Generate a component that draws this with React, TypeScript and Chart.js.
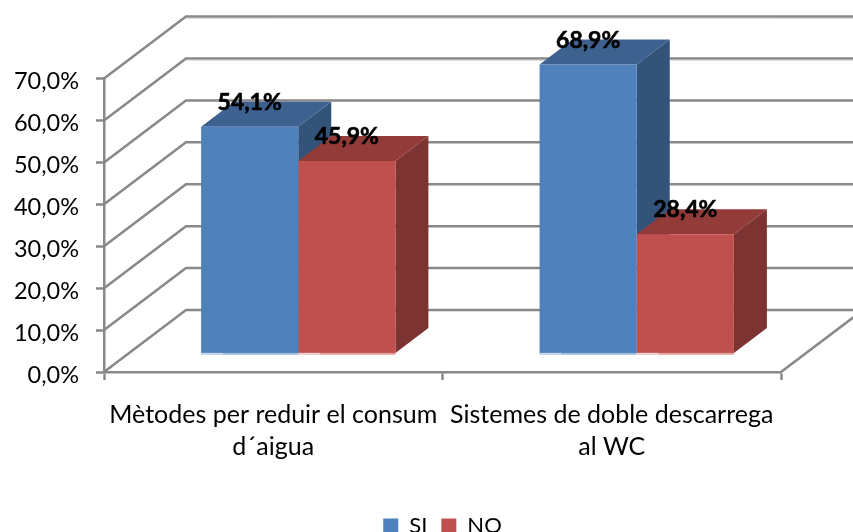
import React, { useEffect, useRef } from "react";
import { Chart, registerables } from "chart.js";

Chart.register(...registerables);

const categories = [["Mètodes per reduir el consum", "d´aigua"], ["Sistemes de doble descarrega", "al WC"]];
const siValues = [54.1, 68.9];
const noValues = [45.9, 28.4];
const FONT = "Lato";
const GRID = "#888888";

const fmt = (v: number) => v.toFixed(1).replace(".", ",") + "%";

const faces = [
  { front: "#4f81bd", top: "#3e6290", side: "#335379", strip1: "#c9d9ec", strip2: "#a3bde0" },
  { front: "#c0504d", top: "#933b39", side: "#7c3331", strip1: "#f2d3d2", strip2: "#e5a5a3" },
];

const WALL_DX = 82;
const WALL_DY = -62;
const BAR_DX = 25;
const BAR_DY = -18.6;
const DEPTH_DX = 33;
const DEPTH_DY = -25;

function poly(ctx: CanvasRenderingContext2D, pts: number[][], fill: string) {
  ctx.fillStyle = fill;
  ctx.beginPath();
  pts.forEach((p, i) => (i ? ctx.lineTo(p[0], p[1]) : ctx.moveTo(p[0], p[1])));
  ctx.closePath();
  ctx.fill();
}

const box3d = {
  id: "box3d",
  beforeDatasetsDraw(chart: any) {
    const { ctx, scales } = chart;
    const xs = scales.x;
    const ys = scales.y;
    ctx.save();
    ctx.lineWidth = 2.5;
    ctx.strokeStyle = GRID;
    ys.ticks.forEach((t: any) => {
      const y = ys.getPixelForValue(t.value);
      ctx.beginPath();
      ctx.moveTo(xs.left, y);
      ctx.lineTo(xs.left + WALL_DX, y + WALL_DY);
      ctx.lineTo(xs.right + WALL_DX, y + WALL_DY);
      ctx.stroke();
    });
    const y0 = ys.getPixelForValue(0);
    ctx.beginPath();
    ctx.moveTo(xs.right, y0);
    ctx.lineTo(xs.right + WALL_DX, y0 + WALL_DY);
    ctx.stroke();
    // shaded edge under the upper wall lines
    ctx.lineWidth = 1;
    ctx.strokeStyle = "#d9d9d9";
    [70, 60].forEach((v) => {
      const y = ys.getPixelForValue(v) + WALL_DY + 1.8;
      ctx.beginPath();
      ctx.moveTo(xs.left + WALL_DX, y);
      ctx.lineTo(xs.right + WALL_DX, y);
      ctx.stroke();
    });
    // depth faces
    chart.data.datasets.forEach((_: any, di: number) => {
      chart.getDatasetMeta(di).data.forEach((bar: any) => {
        const l = bar.x - bar.width / 2 + BAR_DX;
        const r = bar.x + bar.width / 2 + BAR_DX;
        const t = bar.y + BAR_DY;
        const b = bar.base + BAR_DY;
        poly(ctx, [[r, t], [r + DEPTH_DX, t + DEPTH_DY], [r + DEPTH_DX, b + DEPTH_DY], [r, b]], faces[di].side);
        poly(ctx, [[l, t], [r, t], [r + DEPTH_DX, t + DEPTH_DY], [l + DEPTH_DX, t + DEPTH_DY]], faces[di].top);
      });
    });
    ctx.restore();
    ctx.save();
    ctx.translate(BAR_DX, BAR_DY);
  },
  afterDatasetsDraw(chart: any) {
    const { ctx } = chart;
    ctx.restore();
    ctx.save();
    chart.data.datasets.forEach((ds: any, di: number) => {
      chart.getDatasetMeta(di).data.forEach((bar: any) => {
        const l = bar.x - bar.width / 2 + BAR_DX;
        const b = bar.base + BAR_DY;
        ctx.fillStyle = faces[di].strip2;
        ctx.fillRect(l, b, bar.width, 2);
        ctx.fillStyle = faces[di].strip1;
        ctx.fillRect(l, b, 21.5, 2);
      });
    });
    ctx.fillStyle = "#000";
    ctx.strokeStyle = "#000";
    ctx.lineWidth = 0.6;
    ctx.font = `bold 23px ${FONT}`;
    ctx.textAlign = "center";
    ctx.textBaseline = "middle";
    chart.data.datasets.forEach((ds: any, di: number) => {
      chart.getDatasetMeta(di).data.forEach((bar: any, i: number) => {
        const tx = bar.x + BAR_DX;
        const ty = bar.y + BAR_DY - 24.5;
        ctx.fillText(fmt(ds.data[i]), tx, ty);
        ctx.strokeText(fmt(ds.data[i]), tx, ty);
      });
    });
    ctx.restore();
  },
};

export default function App() {
  const ref = useRef<HTMLCanvasElement>(null);
  useEffect(() => {
    document.body.style.margin = "0";
    const chart = new Chart(ref.current!, {
      type: "bar",
      data: {
        labels: categories as any,
        datasets: [
          { label: "SI", data: siValues, backgroundColor: faces[0].front, borderWidth: 0, clip: false as any },
          { label: "NO", data: noValues, backgroundColor: faces[1].front, borderWidth: 0, clip: false as any },
        ],
      },
      options: {
        responsive: false,
        animation: false,
        events: [],
        layout: { padding: { top: 78.6, right: 72, left: 0, bottom: -15 } },
        datasets: { bar: { categoryPercentage: 0.574, barPercentage: 1 } },
        plugins: {
          tooltip: { enabled: false },
          legend: {
            position: "bottom",
            fullSize: false,
            labels: {
              color: "#000",
              boxWidth: 15,
              boxHeight: 15,
              padding: 14,
              font: { family: FONT, size: 22 },
            },
          },
        },
        scales: {
          x: {
            afterFit: (s: any) => {
              s.height = 129;
            },
            grid: { offset: true, drawOnChartArea: false, drawTicks: true, tickLength: 8, tickWidth: 2.5, tickColor: GRID },
            border: { color: GRID, width: 2.5 },
            ticks: {
              color: "#000",
              padding: 19,
              maxRotation: 0,
              autoSkip: false,
              font: { family: FONT, size: 25, lineHeight: 1.28 },
            },
          },
          y: {
            min: 0,
            max: 70,
            afterFit: (s: any) => {
              s.width = 104;
            },
            grid: { drawOnChartArea: false, drawTicks: true, tickLength: 8, tickWidth: 2.5, tickColor: GRID },
            border: { color: GRID, width: 2.5 },
            ticks: {
              stepSize: 10,
              color: "#000",
              padding: 17,
              labelOffset: 3,
              font: { family: FONT, size: 23.5 },
              callback: (v: any) => fmt(Number(v)),
            },
          },
        },
      },
      plugins: [box3d],
    } as any);
    return () => chart.destroy();
  }, []);
  return (
    <div style={{ position: "absolute", left: 0, top: 0, width: 853, height: 532, overflow: "hidden" }}>
      <canvas ref={ref} width={853} height={532} style={{ display: "block" }} />
    </div>
  );
}
